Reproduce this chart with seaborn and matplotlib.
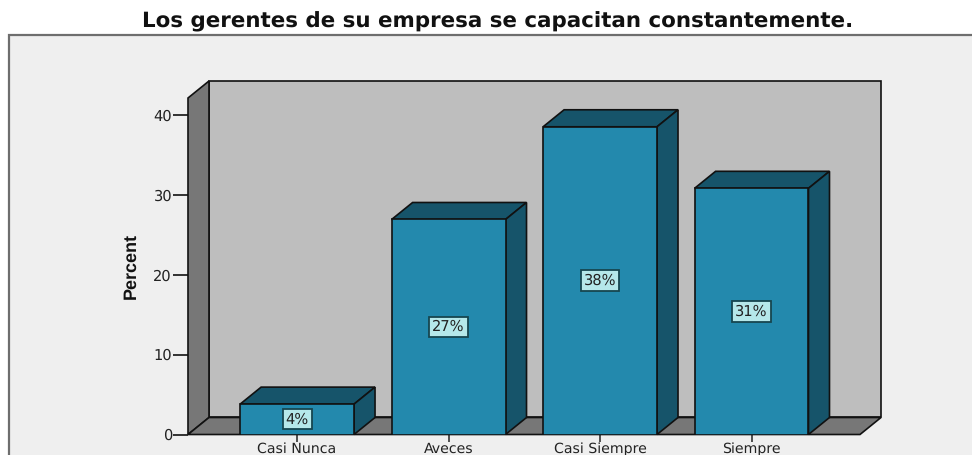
import matplotlib
matplotlib.use("Agg")
import matplotlib.pyplot as plt
import matplotlib.patches as mpatches
import pandas as pd
import seaborn as sns

# ---------------------------
# Data
# ---------------------------
categories = ["Casi Nunca", "Aveces", "Casi Siempre", "Siempre"]
percent = [3.8, 26.9, 38.5, 30.8]
bar_labels = ["4%", "27%", "38%", "31%"]
y_ticks = [0, 10, 20, 30, 40]

df = pd.DataFrame({"categoria": categories, "percent": percent})

# ---------------------------
# Colours
# ---------------------------
panel_bg = "#EFEFEF"
wall = "#BEBEBE"
side_wall = "#777777"
bar_front = "#2389AD"
bar_dark = "#16546A"
label_bg = "#B5E8EA"
line = "#111111"

W, H = 972, 455
sns.set_style("white")
plt.rcParams["font.family"] = ["DejaVu Sans"]
plt.rcParams["text.hinting"] = "no_hinting"  # hinted digits came out too narrow

fig = plt.figure(figsize=(W / 100, H / 100), dpi=100, facecolor="white")

# grey panel, runs off the right and the bottom (zorder below the axes)
fig.add_artist(mpatches.Rectangle((8.5 / W, -0.05), 1.1, 1 - 35.5 / H + 0.05,
                                  transform=fig.transFigure, facecolor=panel_bg,
                                  edgecolor="#6E6E6E", linewidth=1.6, zorder=-1))

# axes = the front plane of the 3D box
left, right, top, bottom = 188, 860, 98, 434.5
ax = fig.add_axes([left / W, 1 - bottom / H, (right - left) / W, (bottom - top) / H])
ax.patch.set_alpha(0)

sns.barplot(data=df, x="categoria", y="percent", color=bar_front, saturation=1,
            width=0.752, edgecolor=line, linewidth=1.2, ax=ax, zorder=5)

ax.set_xlim(-0.72, 3.716)
ax.set_ylim(0, 42.1)

# depth of the box, in data units
dx = 21 / 151.5
dy = 17 / 7.99
x0, x1 = ax.get_xlim()
y0, y1 = ax.get_ylim()


def face(pts, color, z):
    ax.add_patch(mpatches.Polygon(pts, closed=True, facecolor=color, edgecolor=line,
                                  linewidth=1.2, joinstyle="miter", clip_on=False, zorder=z))


# back wall, left wall, floor
face([(x0 + dx, y0 + dy), (x1 + dx, y0 + dy), (x1 + dx, y1 + dy), (x0 + dx, y1 + dy)], wall, 1)
face([(x0, y0), (x0 + dx, y0 + dy), (x0 + dx, y1 + dy), (x0, y1)], side_wall, 2)
face([(x0, y0), (x1, y0), (x1 + dx, y0 + dy), (x0 + dx, y0 + dy)], side_wall, 2)

# top and side of every bar, taken from the bars seaborn drew
for bar, lab in zip(ax.patches[:len(categories)], bar_labels):
    a = bar.get_x()
    b = a + bar.get_width()
    h = bar.get_height()
    face([(a, h), (b, h), (b + dx, h + dy), (a + dx, h + dy)], bar_dark, 4)
    face([(b, 0), (b + dx, dy), (b + dx, h + dy), (b, h)], bar_dark, 4)
    ax.text((a + b) / 2, h / 2, lab, ha="center", va="center", fontsize=10.5, color="#222222",
            zorder=7, bbox=dict(boxstyle="square,pad=0.2", facecolor=label_bg,
                                edgecolor="#16464F", linewidth=1.3))

sns.despine(ax=ax, left=True, bottom=True, top=True, right=True)

ax.set_yticks(y_ticks)
ax.tick_params(axis="y", length=11, width=1.2, color=line, labelsize=10.5,
               labelcolor="#222222", pad=0.5, left=True)
ax.tick_params(axis="x", length=5, width=1.2, color="#333333", labelsize=10.2,
               labelcolor="#222222", pad=0.5, bottom=True)
ax.set_xlabel("")
ax.set_ylabel("")

fig.text(131 / W, 1 - 266 / H, "Percent", rotation=90, ha="center", va="center",
         fontsize=13, fontweight="bold", family=["Liberation Sans", "DejaVu Sans"],
         color="#111111")
fig.text(498 / W, 1 - 22 / H, "Los gerentes de su empresa se capacitan constantemente.",
         ha="center", va="center", fontsize=15.4, fontweight="bold", color="#111111")

plt.savefig("out.png", dpi=100)
